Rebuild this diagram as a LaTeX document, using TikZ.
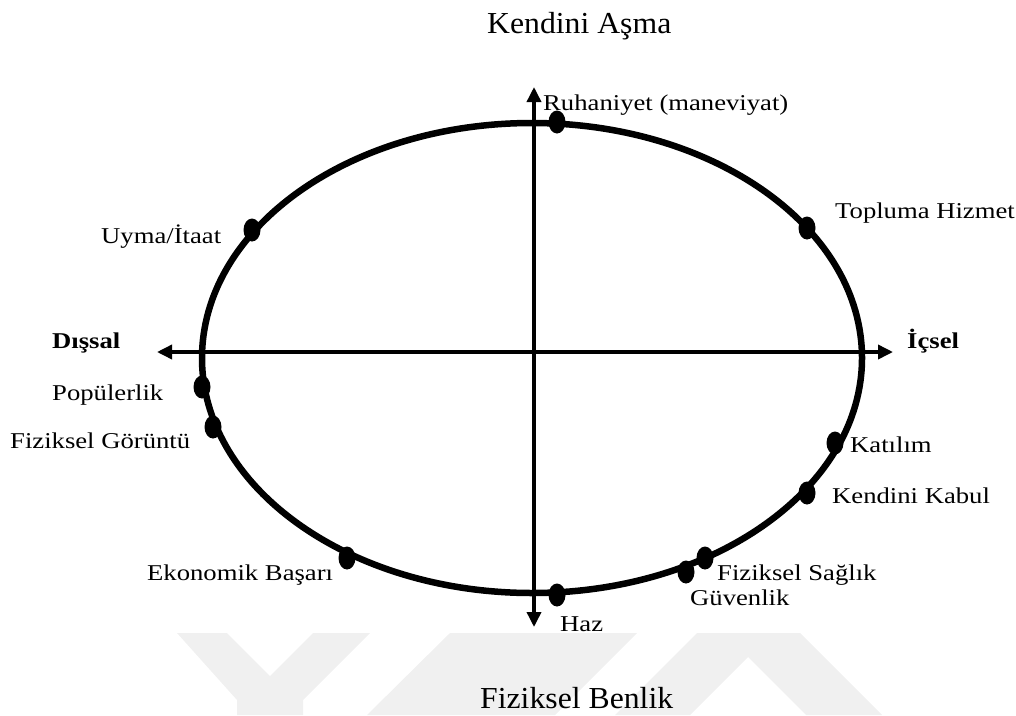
\documentclass[tikz,border=0pt]{standalone}
\usepackage{fontspec}
\setmainfont{Liberation Serif}
\usetikzlibrary{arrows.meta,shapes.geometric}
\newcommand{\lblfont}{\fontsize{22.6}{26}\selectfont}
\newcommand{\ttlfont}{\fontsize{30.5}{34}\selectfont}
\newcommand{\wlbl}[1]{\scalebox{1.18}[1]{#1}}
\begin{document}
\begin{tikzpicture}[x=1pt,y=-1pt,
  dot/.style={ellipse, fill=black, inner sep=0pt, minimum width=17pt, minimum height=23pt},
  lbl/.style={anchor=base west, inner sep=0pt, font=\lblfont},
  ttl/.style={anchor=base west, inner sep=0pt, font=\ttlfont},
  axisline/.style={line width=3.5pt, {Triangle[length=15pt,width=14pt]}-{Triangle[length=15pt,width=14pt]}},
  ring/.style={line width=6.5pt},
  wm/.style={fill=black!6, draw=none}]
\useasboundingbox (0,0) rectangle (1016,715);
% watermark
\fill[wm] (177,633)--(227,633)--(270,676)--(313,633)--(370,633)--(303,700)--(303,715)--(237,715)--(237,700)--cycle;
\fill[wm] (450,633)--(637,633)--(555,715)--(367,715)--cycle;
\fill[wm] (697,633)--(800,633)--(882,715)--(806,715)--(748,657)--(690,715)--(615,715)--cycle;
% titles
\node[ttl] (top) at (487,33) {\scalebox{1.04}[1]{Kendini Aşma}};
\node[ttl] (bottom) at (480,708) {\scalebox{1.04}[1]{Fiziksel Benlik}};
% ellipse
\draw[ring] (532,358) ellipse [x radius=330, y radius=235];
% axes
\coordinate (L) at (157,352);
\coordinate (R) at (893,352);
\coordinate (T) at (534,87);
\coordinate (B) at (534,627);
\draw[axisline] (L) -- (R);
\draw[axisline] (B) -- (T);
% dots
\node[dot] (d1) at (557,122) {};
\node[dot] (d2) at (252,230) {};
\node[dot] (d3) at (807,228) {};
\node[dot] (d4) at (202,387) {};
\node[dot] (d5) at (213,427) {};
\node[dot] (d6) at (835,443) {};
\node[dot] (d7) at (807,493) {};
\node[dot] (d8) at (347,558) {};
\node[dot] (d9) at (557,595) {};
\node[dot] (d10) at (686,572) {};
\node[dot] (d11) at (705,558) {};
% labels
\node[lbl] (l1) at (543,110) {\wlbl{Ruhaniyet (maneviyat)}};
\node[lbl] (l2) at (101,243) {\wlbl{Uyma/İtaat}};
\node[lbl] (l3) at (835,218) {\wlbl{Topluma Hizmet}};
\node[lbl] (l4) at (52,400) {\wlbl{Popülerlik}};
\node[lbl] (l5) at (10,448) {\wlbl{Fiziksel Görüntü}};
\node[lbl] (l6) at (850,452) {\wlbl{Katılım}};
\node[lbl] (l7) at (832,503) {\wlbl{Kendini Kabul}};
\node[lbl] (l8) at (147,580) {\wlbl{Ekonomik Başarı}};
\node[lbl] (l9) at (560,631) {\wlbl{Haz}};
\node[lbl] (l10) at (690,605) {\wlbl{Güvenlik}};
\node[lbl] (l11) at (717,580) {\wlbl{Fiziksel Sağlık}};
\node[lbl] (dis) at (52,348) {\wlbl{\bfseries Dışsal}};
\node[lbl] (ic) at (907,348) {\wlbl{\bfseries İçsel}};
\end{tikzpicture}
\end{document}
